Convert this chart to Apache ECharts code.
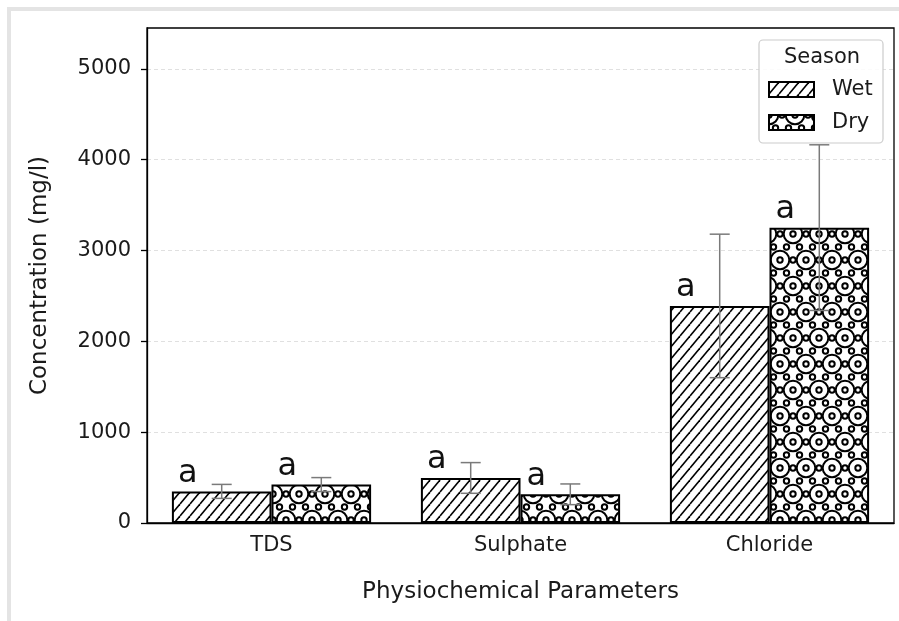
<!DOCTYPE html>
<html><head><meta charset="utf-8">
<script src="https://cdn.jsdelivr.net/npm/echarts@6/dist/echarts.min.js"></script>
<style>html,body{margin:0;padding:0;background:#fff}#c{width:899px;height:621px}</style>
</head><body><div id="c"></div>
<script>
const categories = ['TDS', 'Sulphate', 'Chloride'];
const wetMeans = [348, 496, 2390];
const wetErrors = [77, 169, 790];
const dryMeans = [423, 316, 3252];
const dryErrors = [77, 114, 912];
const wetLetters = ['a', 'a', 'a'];
const dryLetters = ['a', 'a', 'a'];
const yTicks = [0, 1000, 2000, 3000, 4000, 5000];
const yMax = 5450;

const FONT = 'DejaVu Sans';

function hatchPattern() {
  const w = 10, h = 12;
  const c = document.createElement('canvas'); c.width = w; c.height = h;
  const g = c.getContext('2d');
  g.fillStyle = '#fff'; g.fillRect(0, 0, w, h);
  g.strokeStyle = '#000'; g.lineWidth = 1.6;
  for (const dx of [-w, 0, w]) { g.beginPath(); g.moveTo(dx, h); g.lineTo(dx + w, 0); g.stroke(); }
  return c;
}
function circlePattern() {
  const s = 26, w = s, h = 2 * s;
  const c = document.createElement('canvas'); c.width = w; c.height = h;
  const g = c.getContext('2d');
  g.fillStyle = '#fff'; g.fillRect(0, 0, w, h);
  g.strokeStyle = '#000'; g.lineWidth = 2;
  const circ = (x, y, r) => { g.beginPath(); g.arc(x, y, r, 0, Math.PI * 2); g.stroke(); };
  [[0,0],[s,0],[0,h],[s,h],[s/2,s]].forEach(p => circ(p[0], p[1], 9.3));
  for (let k = 0; k <= 4; k++) {
    const y = k * s / 2;
    const xs = k % 2 === 0 ? [0, s/2, s] : [s/4, 3*s/4];
    xs.forEach(x => circ(x, y, 2.7));
  }
  return c;
}

const hatch = hatchPattern();
const circles = circlePattern();

function barSeries(name, means, letters, pattern) {
  return {
    type: 'bar', name, data: means, barWidth: '40%', barGap: '0%',
    itemStyle: { color: { image: pattern, repeat: 'repeat' }, borderColor: '#000', borderWidth: 2 },
    label: {
      show: true, position: 'top', distance: 2, offset: [-34, 0],
      formatter: p => letters[p.dataIndex],
      fontSize: 32, lineHeight: 32, fontFamily: FONT, color: '#111'
    },
    emphasis: { disabled: true }, z: 2
  };
}
function errSeries(means, errs, side) {
  return {
    type: 'custom', silent: true, z: 5,
    data: means.map((m, i) => [i, m, errs[i]]),
    encode: { x: 0, y: 1 },
    renderItem(params, api) {
      const i = api.value(0), m = api.value(1), e = api.value(2);
      const band = api.size([1, 0])[0];
      const x = api.coord([i, m])[0] + side * band * 0.2;
      const yt = api.coord([i, m + e])[1], yb = api.coord([i, m - e])[1];
      const hw = 10;
      const style = { stroke: '#7a7a7a', lineWidth: 1.5 };
      return { type: 'group', children: [
        { type: 'line', shape: { x1: x, y1: yt, x2: x, y2: yb }, style },
        { type: 'line', shape: { x1: x - hw, y1: yt, x2: x + hw, y2: yt }, style },
        { type: 'line', shape: { x1: x - hw, y1: yb, x2: x + hw, y2: yb }, style }
      ]};
    }
  };
}

const chart = echarts.init(document.getElementById('c'), null, { renderer: 'canvas' });
chart.setOption({
  animation: false,
  backgroundColor: '#fff',
  textStyle: { fontFamily: FONT },
  grid: { left: 147, right: 5, top: 28, bottom: 98, show: true, borderColor: '#000', borderWidth: 1.3, backgroundColor: 'transparent' },
  legend: {
    data: ['Wet', 'Dry'], orient: 'vertical', left: 768, top: 79, padding: 0,
    itemWidth: 45, itemHeight: 15, itemGap: 12, icon: 'rect',
    textStyle: { fontSize: 21, color: '#1a1a1a', fontFamily: FONT, padding: [0, 0, 0, 13] },
    selectedMode: false
  },
  xAxis: {
    type: 'category', data: categories,
    axisLine: { lineStyle: { color: '#000', width: 1.3 } },
    axisTick: { alignWithLabel: true, length: 6, lineStyle: { color: '#000', width: 1.3 } },
    axisLabel: { fontSize: 21, color: '#1a1a1a', margin: 12, fontFamily: FONT },
    name: 'Physiochemical Parameters', nameLocation: 'middle', nameGap: 58,
    nameTextStyle: { fontSize: 23, color: '#1a1a1a', fontFamily: FONT }
  },
  yAxis: {
    type: 'value', min: 0, max: yMax, interval: 1000,
    axisLine: { show: true, lineStyle: { color: '#000', width: 1.3 } },
    axisTick: { show: true, length: 6, customValues: yTicks, lineStyle: { color: '#000', width: 1.3 } },
    axisLabel: { fontSize: 21, color: '#1a1a1a', margin: 16, customValues: yTicks, fontFamily: FONT, formatter: v => String(v) },
    splitLine: { show: true, lineStyle: { color: '#e0e0e0', type: [4, 3], width: 1 } },
    name: 'Concentration (mg/l)', nameLocation: 'middle', nameGap: 95,
    nameTextStyle: { fontSize: 23, color: '#1a1a1a', fontFamily: FONT }
  },
  graphic: [
    { type: 'rect', silent: true, z: 0, shape: { x: 9, y: 9, width: 1000, height: 1000 }, style: { fill: 'none', stroke: '#e4e4e4', lineWidth: 4 } },
    { type: 'rect', silent: true, z: 3, shape: { x: 759, y: 40, width: 124, height: 103, r: 4 }, style: { fill: 'rgba(255,255,255,0.85)', stroke: '#cccccc', lineWidth: 1.2 } },
    { type: 'text', silent: true, z: 5, x: 822, y: 58, style: { text: 'Season', font: '21px "DejaVu Sans"', textAlign: 'center', textVerticalAlign: 'middle', fill: '#1a1a1a' } }
  ],
  series: [
    barSeries('Wet', wetMeans, wetLetters, hatch),
    barSeries('Dry', dryMeans, dryLetters, circles),
    errSeries(wetMeans, wetErrors, -1),
    errSeries(dryMeans, dryErrors, 1)
  ]
});
</script></body></html>
